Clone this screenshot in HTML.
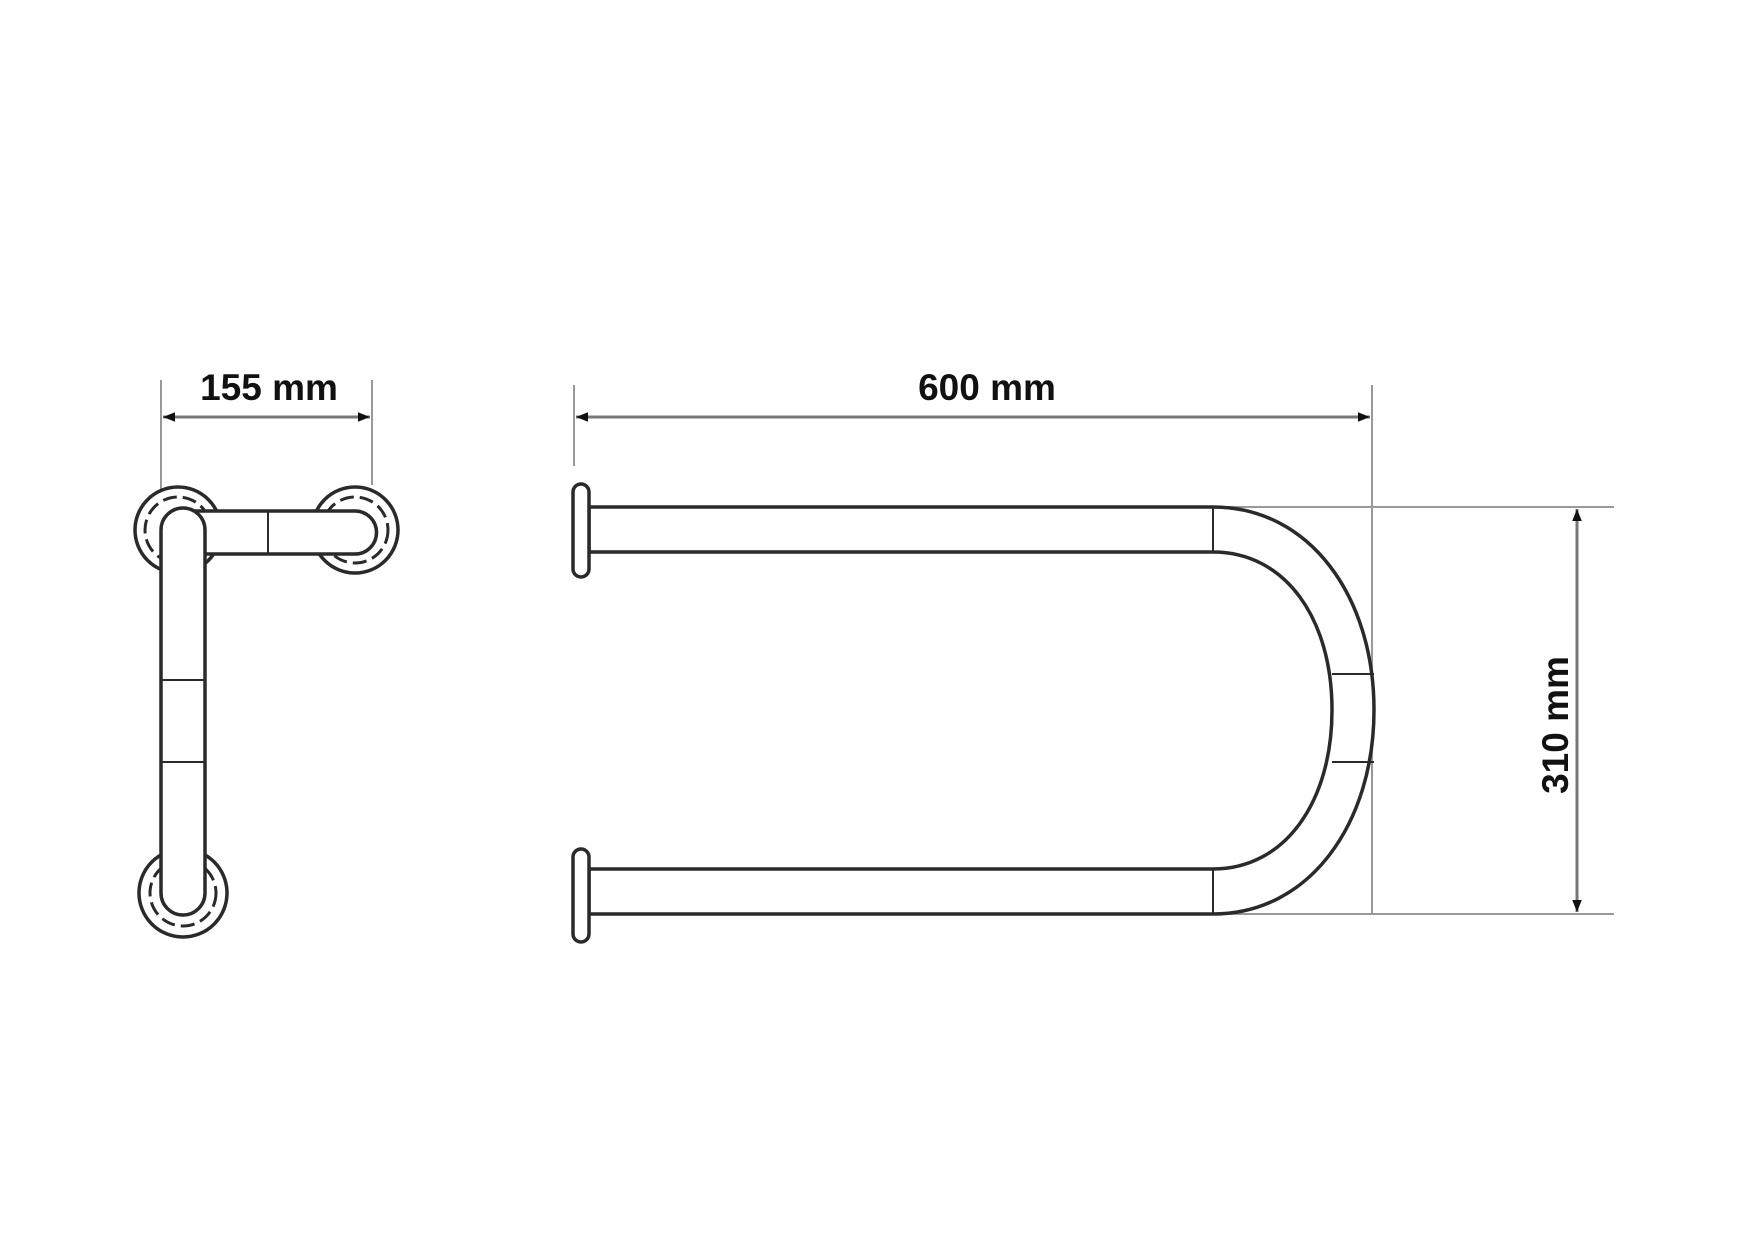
<!DOCTYPE html>
<html><head><style>html,body{margin:0;padding:0;background:#fff}svg{display:block}</style></head><body>
<svg width="1748" height="1240" viewBox="0 0 1748 1240" xmlns="http://www.w3.org/2000/svg">
<defs>
<marker id="a" viewBox="0 0 10 10" refX="10" refY="5" markerWidth="7" markerHeight="4" orient="auto-start-reverse" markerUnits="strokeWidth"><path d="M0,1 L10,5 L0,9 z" fill="#111"/></marker>
</defs>
<g font-family="Liberation Sans, sans-serif" font-weight="bold" font-size="37" fill="#111" text-anchor="middle">
<text x="269" y="400">155 mm</text>
<text x="987" y="400">600 mm</text>
<text transform="translate(1568,725) rotate(-90)">310 mm</text>
</g>
<g stroke="#999" stroke-width="2" fill="none">
<line x1="161" y1="380" x2="161" y2="500"/>
<line x1="372" y1="380" x2="372" y2="485"/>
<line x1="574" y1="385" x2="574" y2="466"/>
<line x1="1372" y1="385" x2="1372" y2="914"/>
<line x1="1220" y1="507" x2="1614" y2="507"/>
<line x1="1220" y1="914" x2="1614" y2="914"/>
</g>
<g stroke="#777" stroke-width="3" fill="none">
<line x1="163" y1="417" x2="370" y2="417" marker-start="url(#a)" marker-end="url(#a)"/>
<line x1="576" y1="417" x2="1370" y2="417" marker-start="url(#a)" marker-end="url(#a)"/>
<line x1="1577" y1="509" x2="1577" y2="912" marker-start="url(#a)" marker-end="url(#a)"/>
</g>
<g stroke="#2a2a2a" stroke-width="3.5" fill="#fff">
<circle cx="178" cy="530" r="43"/>
<circle cx="178" cy="530" r="33" stroke-dasharray="14 6" stroke-width="3"/>
<circle cx="355" cy="530" r="43"/>
<circle cx="355" cy="530" r="33" stroke-dasharray="14 6" stroke-width="3"/>
<circle cx="183" cy="893" r="44"/>
<circle cx="183" cy="893" r="33" stroke-dasharray="14 6" stroke-width="3"/>
<path d="M180,511 H355 A21,21 0 0 1 355,554 H180 Z"/>
<line x1="268" y1="511" x2="268" y2="554" stroke-width="2"/>
<path d="M161,530 A22,22 0 0 1 205,530 V893 A22,22 0 0 1 161,893 Z"/>
<line x1="161" y1="680" x2="205" y2="680" stroke-width="2"/>
<line x1="161" y1="762" x2="205" y2="762" stroke-width="2"/>
<path d="M589,507 H1213 C1310,507 1374,597 1374,710 C1374,823 1310,914 1213,914 H589 V869 H1213 C1285,869 1332,802 1332,710 C1332,618 1285,552 1213,552 H589 Z"/>
<line x1="1213" y1="507" x2="1213" y2="552" stroke-width="2"/>
<line x1="1213" y1="869" x2="1213" y2="914" stroke-width="2"/>
<line x1="1332" y1="674" x2="1374" y2="674" stroke-width="2"/>
<line x1="1332" y1="762" x2="1374" y2="762" stroke-width="2"/>
<rect x="573" y="484" width="16" height="93" rx="8"/>
<rect x="573" y="849" width="16" height="93" rx="8"/>
</g>
</svg>
</body></html>
